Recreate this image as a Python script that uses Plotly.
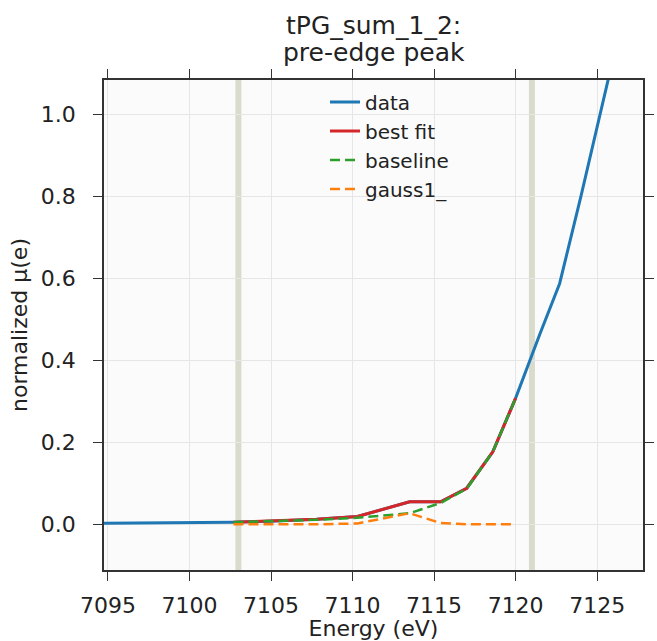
import plotly.graph_objects as go

# data
data_e = [7094.7, 7097.5, 7100.0, 7102.7, 7105.3, 7107.8, 7110.3, 7113.5, 7115.4,
          7117.0, 7118.6, 7120.0, 7121.5, 7122.7, 7124.0, 7125.7]
data_mu = [0.0025, 0.003, 0.004, 0.005, 0.008, 0.012, 0.019, 0.055, 0.055,
           0.088, 0.177, 0.308, 0.466, 0.588, 0.800, 1.090]

fit_e = [7102.7, 7105.3, 7107.8, 7110.3, 7113.5, 7115.4, 7117.0, 7118.6, 7120.0]
best_fit = [0.005, 0.008, 0.012, 0.019, 0.055, 0.055, 0.088, 0.177, 0.308]
baseline = [0.005, 0.008, 0.011, 0.016, 0.027, 0.052, 0.087, 0.177, 0.308]
gauss1 = [0.000, 0.000, 0.000, 0.002, 0.027, 0.003, 0.000, 0.000, 0.000]

band_e = [7103.0, 7121.0]
x_ticks = [7095, 7100, 7105, 7110, 7115, 7120, 7125]
y_ticks = [0.0, 0.2, 0.4, 0.6, 0.8, 1.0]
title_lines = ["tPG_sum_1_2:", "pre-edge peak"]

FONT = "DejaVu Sans"
TXT = "#222222"
fig = go.Figure()
fig.add_trace(go.Scatter(x=data_e, y=data_mu, mode="lines", name="data",
                         line=dict(color="#1f77b4", width=3)))
fig.add_trace(go.Scatter(x=fit_e, y=best_fit, mode="lines", name="best fit",
                         line=dict(color="#d62728", width=3)))
fig.add_trace(go.Scatter(x=fit_e, y=baseline, mode="lines", name="baseline",
                         line=dict(color="#2ca02c", width=2.5, dash="10px,5px")))
fig.add_trace(go.Scatter(x=fit_e, y=gauss1, mode="lines", name="gauss1_",
                         line=dict(color="#ff7f0e", width=2.5, dash="10px,5px")))

for e in band_e:
    fig.add_shape(type="line", xref="x", yref="paper", x0=e, x1=e, y0=0, y1=1,
                  line=dict(color="#d9dbcd", width=6), layer="below")

for i, t in enumerate(title_lines):
    fig.add_annotation(text=t, xref="paper", yref="paper", x=0.5, y=1,
                       xanchor="center", yanchor="middle", yshift=55 - 27 * i,
                       showarrow=False, font=dict(family=FONT, size=25, color=TXT))

axis_common = dict(showline=True, linecolor="#333333", linewidth=1.5, mirror="ticks",
                   ticks="outside", ticklen=9, tickwidth=1.2, tickcolor="#333333",
                   showgrid=True, gridcolor="#e6e6e6", gridwidth=1, zeroline=False,
                   tickfont=dict(family=FONT, size=22, color=TXT))

fig.update_layout(
    width=657, height=641,
    margin=dict(l=104, r=3, t=80, b=71),
    paper_bgcolor="white", plot_bgcolor="#fbfbfb",
    font=dict(family=FONT, color=TXT),
    xaxis=dict(range=[7094.76, 7127.81], tickvals=x_ticks, ticktext=[str(t) for t in x_ticks],
               ticklabelstandoff=6,
               title=dict(text="Energy (eV)", font=dict(family=FONT, size=22, color=TXT), standoff=3),
               **axis_common),
    yaxis=dict(range=[-0.1116, 1.0847], tickvals=y_ticks, ticktext=[f"{t:.1f}" for t in y_ticks],
               ticklabelstandoff=13,
               title=dict(text="normalized μ(e)", font=dict(family=FONT, size=22, color=TXT), standoff=7),
               **axis_common),
    legend=dict(x=0.41, y=0.995, xanchor="left", yanchor="top",
                bgcolor="rgba(0,0,0,0)", borderwidth=0,
                font=dict(family=FONT, size=20, color=TXT)),
    showlegend=True,
)

fig.write_html("out.html", config={"displayModeBar": False},
               post_script="document.body.style.margin='0px';document.body.style.overflow='hidden';")
